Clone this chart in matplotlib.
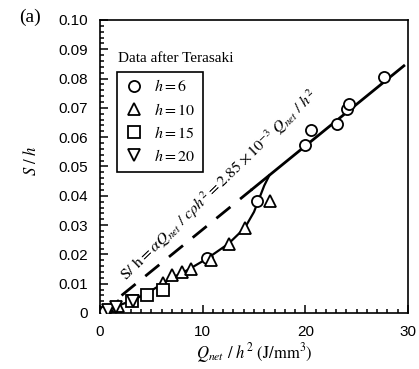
"""Crater depth S/h against net heat input Q_net/h^2, data after Terasaki."""

import matplotlib

matplotlib.use("Agg")
import matplotlib.pyplot as plt  # noqa: E402
from matplotlib.ticker import MultipleLocator  # noqa: E402

plt.rcParams["mathtext.fontset"] = "stix"
plt.rcParams["font.family"] = ["Liberation Serif", "DejaVu Serif"]

# measured points per plate thickness h
H6_Q = [0.5, 10.4, 15.25, 20.0, 20.6, 23.1, 24.1, 24.3, 27.7]
H6_S = [0.0008, 0.0186, 0.0383, 0.0573, 0.0623, 0.0645, 0.0695, 0.0715, 0.0805]
H10_Q = [1.8, 6.1, 7.0, 8.0, 8.9, 10.8, 12.6, 14.1, 16.6]
H10_S = [0.0025, 0.0103, 0.0128, 0.0141, 0.0149, 0.0182, 0.0236, 0.0289, 0.0383]
H15_Q = [3.1, 4.6, 6.1]
H15_S = [0.0040, 0.0062, 0.0080]
H20_Q = [0.8, 1.6, 3.2]
H20_S = [0.0010, 0.0020, 0.0042]

# hand-drawn trend through the low-Q data
CURVE_Q = [0, 1, 2, 3.3, 4.6, 6.0, 7.2, 8.5, 10.4, 12.5, 14.1, 15.0, 15.5, 16.0, 16.5]
CURVE_S = [0, 0.0014, 0.0028, 0.0045, 0.0068, 0.0098, 0.0123, 0.0146, 0.0185,
           0.0236, 0.029, 0.0345, 0.039, 0.0435, 0.047]

# linear model S/h = 2.85e-3 Q/h^2
SLOPE = 2.85e-3
SOLID_Q = [14.8, 29.6]
DASHED_Q = [2.1, 14.8]

X_TICKS = [0, 10, 20, 30]
Y_TICKS = [0, 0.01, 0.02, 0.03, 0.04, 0.05, 0.06, 0.07, 0.08, 0.09, 0.10]
Y_LABELS = ["0", "0.01", "0.02", "0.03", "0.04", "0.05", "0.06", "0.07", "0.08", "0.09", "0.10"]


def main() -> None:
    fig = plt.figure(figsize=(4.19, 3.69), dpi=100)
    ax = fig.add_axes([0.2387, 0.1518, 0.735, 0.794])

    ax.plot(CURVE_Q, CURVE_S, color="black", lw=1.6)
    ax.plot(SOLID_Q, [SLOPE * q for q in SOLID_Q], color="black", lw=2.0)
    ax.plot(DASHED_Q, [SLOPE * q for q in DASHED_Q], color="black", lw=2.0,
            dashes=(6.5, 4.5))

    mk = dict(ls="none", mfc="white", mec="black", mew=1.3, ms=8, zorder=3)
    ax.plot(H6_Q, H6_S, marker="o", label=r"$h = 6$", **mk)
    ax.plot(H10_Q, H10_S, marker="^", label=r"$h = 10$", **mk)
    ax.plot(H15_Q, H15_S, marker="s", label=r"$h = 15$", **mk)
    ax.plot(H20_Q, H20_S, marker="v", label=r"$h = 20$", **mk)

    leg = ax.legend(loc="upper left", bbox_to_anchor=(0.055, 0.822), borderaxespad=0,
                    fancybox=False, framealpha=1, edgecolor="black", fontsize=11.5,
                    handletextpad=0.7, handlelength=1.2, labelspacing=0.45,
                    borderpad=0.45)
    leg.get_frame().set_linewidth(1.2)
    ax.text(0.058, 0.845, "Data after Terasaki", transform=ax.transAxes, fontsize=11,
            ha="left", va="bottom")

    ax.text(11.6, 0.0437,
            r"$\mathrm{S/\ h} = \alpha Q_{net}\ /\ c\rho h^2 = 2.85\times 10^{-3}\ Q_{net}\ /\ h^2$",
            rotation=44, ha="center", va="center", fontsize=11.5)

    ax.set_xlim(0, 30)
    ax.set_ylim(0, 0.10)
    ax.set_xticks(X_TICKS)
    ax.set_yticks(Y_TICKS)
    ax.set_yticklabels(Y_LABELS)
    ax.xaxis.set_minor_locator(MultipleLocator(1))
    ax.yaxis.set_minor_locator(MultipleLocator(0.002))
    ax.tick_params(which="both", direction="in", top=False, right=False, width=1.1)
    ax.tick_params(which="major", length=6, pad=9)
    ax.tick_params(which="minor", length=3)
    for lab in ax.get_xticklabels() + ax.get_yticklabels():
        lab.set_family(["Liberation Sans", "DejaVu Sans"])
        lab.set_fontsize(11)
    for sp in ax.spines.values():
        sp.set_linewidth(1.2)

    ax.set_xlabel(r"$Q_{net}\ /\ h^2\ \mathrm{(J/mm^3)}$", fontsize=12)
    ax.xaxis.set_label_coords(0.5, -0.095)
    ax.set_ylabel(r"$S\ /\ h$", fontsize=12)
    ax.yaxis.set_label_coords(-0.195, 0.52)

    fig.text(0.045, 0.952, "(a)", fontsize=14, ha="left", va="center")

    fig.savefig("out.png", dpi=100)
    plt.close(fig)


if __name__ == "__main__":
    main()
